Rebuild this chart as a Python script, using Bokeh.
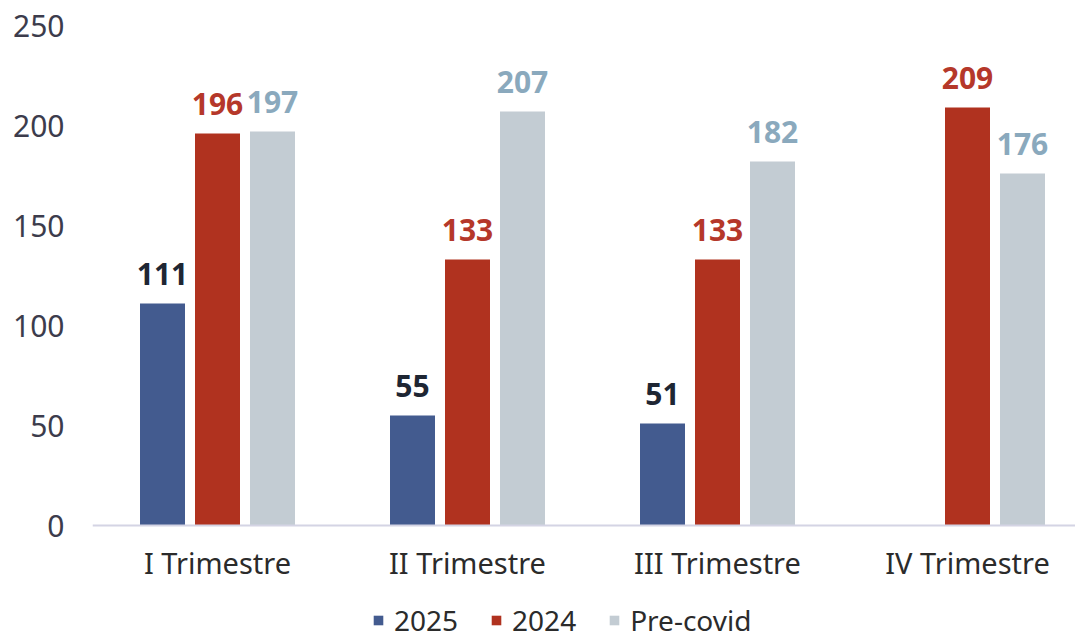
from bokeh.plotting import figure
from bokeh.models import ColumnDataSource, Range1d, FixedTicker, Legend, LegendItem
from bokeh.core.properties import value
from bokeh.embed import file_html
from bokeh.resources import INLINE

categories = ["I Trimestre", "II Trimestre", "III Trimestre", "IV Trimestre"]
series_names = ["2025", "2024", "Pre-covid"]
v2025 = [111, 55, 51, None]
v2024 = [196, 133, 133, 209]
vprecovid = [197, 207, 182, 176]
y_ticks = [0, 50, 100, 150, 200, 250]

bar_colors = ["#435b8f", "#b0321f", "#c3ccd3"]
label_colors = ["#1e2633", "#b5382a", "#8aa9bd"]
offsets = [-0.22, 0.0, 0.22]
FONT = "Noto Sans"

# frame spans 25..640 px; value 0 sits at 525 px, 250 at 25 px (2 px per unit)
p = figure(frame_width=983, frame_height=614, output_backend="svg", toolbar_location=None,
           x_range=Range1d(-0.5, 3.432), y_range=Range1d(-57, 250),
           min_border_left=92, min_border_right=0, min_border_top=25, min_border_bottom=0)
p.outline_line_color = None
p.grid.grid_line_color = None
p.background_fill_color = "white"
p.border_fill_color = "white"

items = []
for name, vals, bc, lc, off in zip(series_names, [v2025, v2024, vprecovid], bar_colors, label_colors, offsets):
    xs = [i + off for i, v in enumerate(vals) if v is not None]
    ys = [v for v in vals if v is not None]
    src = ColumnDataSource(dict(x=xs, top=ys, lab=[str(v) for v in ys]))
    r = p.vbar(x="x", top="top", bottom=0, width=0.18, source=src, fill_color=bc, line_color=None)
    p.text(x="x", y="top", text="lab", source=src, text_align="center", text_baseline="alphabetic",
           y_offset=-30, text_font=value(FONT), text_font_style="bold", text_font_size="30px",
           text_color=lc)
    items.append(LegendItem(label=name, renderers=[r]))

p.xaxis.fixed_location = 0
p.xaxis.ticker = FixedTicker(ticks=list(range(len(categories))))
p.xaxis.major_label_overrides = {i: c for i, c in enumerate(categories)}
p.xaxis.major_tick_line_color = None
p.xaxis.minor_tick_line_color = None
p.xaxis.axis_line_color = "#d4d4e4"
p.xaxis.axis_line_width = 2
p.xaxis.major_label_standoff = 11
p.xaxis.major_label_text_font = FONT
p.xaxis.major_label_text_font_size = "29px"
p.xaxis.major_label_text_color = "#2b2b2b"

p.yaxis.ticker = FixedTicker(ticks=y_ticks)
p.yaxis.major_tick_line_color = None
p.yaxis.minor_tick_line_color = None
p.yaxis.axis_line_color = None
p.yaxis.major_label_standoff = 22
p.yaxis.major_label_text_font = FONT
p.yaxis.major_label_text_font_size = "30px"
p.yaxis.major_label_text_color = "#3c3c4c"

legend = Legend(items=items, orientation="horizontal", location=(280, 0),
                label_text_font=FONT, label_text_font_size="28px", label_text_color="#2b2b2b",
                glyph_width=12, glyph_height=12, label_standoff=10, spacing=32, label_height=28,
                border_line_color=None, background_fill_alpha=0, padding=0, margin=0)
p.add_layout(legend, "center")

open("out.html", "w").write(file_html(p, INLINE))
